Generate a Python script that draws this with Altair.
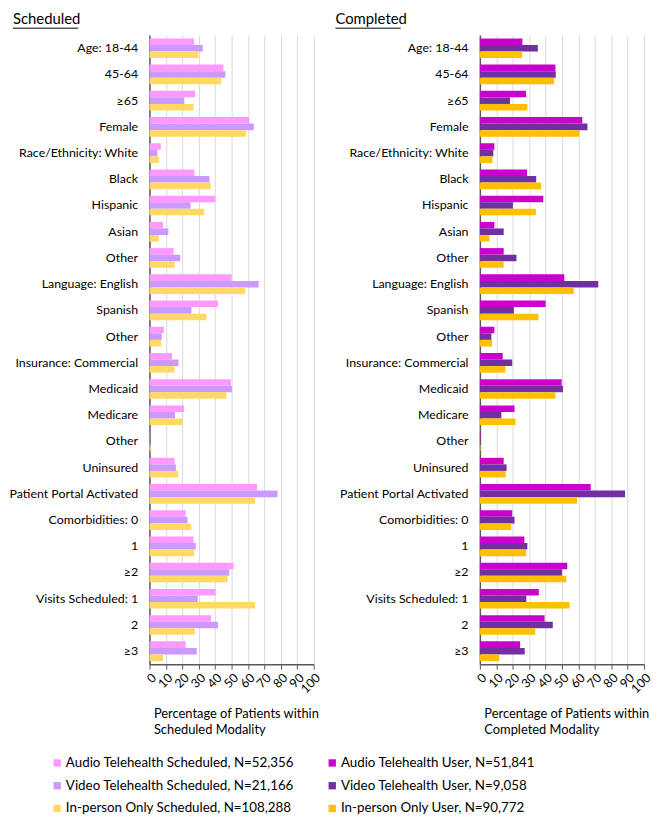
import json
import altair as alt
import pandas as pd

FONT = "Lato"

labels = ["Age: 18-44", "45-64", "≥65", "Female", "Race/Ethnicity: White", "Black",
          "Hispanic", "Asian", "Other", "Language: English", "Spanish", "Other",
          "Insurance: Commercial", "Medicaid", "Medicare", "Other", "Uninsured",
          "Patient Portal Activated", "Comorbidities: 0", "1", "≥2",
          "Visits Scheduled: 1", "2", "≥3"]

sched_series = ["Audio Telehealth Scheduled, N=52,356",
                "Video Telehealth Scheduled, N=21,166",
                "In-person Only Scheduled, N=108,288"]
comp_series = ["Audio Telehealth User, N=51,841",
               "Video Telehealth User, N=9,058",
               "In-person Only User, N=90,772"]

sched_audio = [27.2, 45.0, 27.8, 60.7, 6.9, 27.4, 40.1, 8.3, 14.7, 50.0, 41.7, 8.7,
               13.7, 49.6, 21.0, 0.2, 15.3, 65.5, 22.0, 26.8, 51.2, 40.3, 37.5, 22.0]
sched_video = [32.5, 46.2, 21.2, 63.5, 4.8, 36.5, 25.0, 11.5, 18.8, 66.5, 25.6, 7.5,
               17.7, 50.2, 15.5, 0.3, 16.1, 78.0, 23.2, 28.2, 48.6, 29.4, 41.7, 28.8]
sched_inperson = [29.8, 43.7, 26.8, 58.9, 5.8, 37.3, 33.3, 5.6, 15.3, 58.3, 34.7, 7.1,
                  15.3, 46.8, 20.0, 0.8, 17.5, 64.3, 25.4, 27.2, 47.6, 64.3, 27.6, 8.3]

comp_audio = [25.9, 46.0, 28.1, 62.4, 8.8, 28.7, 38.6, 8.8, 14.5, 51.4, 40.0, 8.8,
              13.9, 49.8, 21.1, 0.4, 14.5, 67.5, 19.7, 27.1, 53.2, 35.9, 39.4, 24.5]
comp_video = [35.3, 46.2, 18.3, 65.5, 8.2, 34.3, 20.1, 14.5, 22.3, 72.1, 20.7, 7.0,
              19.7, 50.6, 13.1, 0.2, 16.3, 88.4, 21.1, 28.9, 50.0, 28.3, 44.4, 27.3]
comp_inperson = [25.7, 45.2, 28.9, 60.6, 7.6, 37.3, 34.1, 5.8, 14.5, 57.2, 35.7, 7.4,
                 15.5, 46.0, 21.7, 0.4, 15.7, 59.2, 19.1, 28.1, 52.6, 54.6, 33.7, 11.8]

sched_colors = ["#FF99FF", "#CC99FF", "#FFD966"]
comp_colors = ["#CC00CC", "#7030A0", "#FFC000"]

x_ticks = list(range(0, 101, 10))
label_expr = json.dumps(labels, ensure_ascii=False) + "[datum.value]"

W, H = 166, 636


def panel(title, series, values, colors, axis_title, title_x, legend_x):
    rows = []
    for s, vals in zip(series, values):
        for i, v in enumerate(vals):
            rows.append({"idx": i, "series": s, "value": v})
    df = pd.DataFrame(rows)

    bars = alt.Chart(df).mark_bar(height={"band": 1}).encode(
        y=alt.Y("idx:O",
                scale=alt.Scale(paddingInner=0.25, paddingOuter=0.125),
                axis=alt.Axis(title=None, labelExpr=label_expr, ticks=False,
                              domainColor="#595959", domainWidth=1.5,
                              labelFontSize=12.5, labelPadding=12, labelColor="#000000",
                              labelLimit=220, minExtent=138, maxExtent=138)),
        yOffset=alt.YOffset("series:N", scale=alt.Scale(domain=series, paddingInner=0, paddingOuter=0)),
        x=alt.X("value:Q",
                scale=alt.Scale(domain=[0, 100], nice=False),
                axis=alt.Axis(values=x_ticks, labelAngle=-45, labelFontSize=12.5,
                              labelOverlap=False,
                              labelColor="#000000", tickColor="#595959", tickSize=5,
                              domainColor="#595959", domainWidth=1.5,
                              gridColor="#d9d9d9", gridWidth=1,
                              title=axis_title, titleAnchor="start", titleAlign="left",
                              titleBaseline="top", titleX=4, titleY=44,
                              titleFontSize=13, titleFontWeight="normal",
                              titleColor="#000000", titleLineHeight=16)),
        color=alt.Color("series:N",
                        scale=alt.Scale(domain=series, range=colors),
                        legend=alt.Legend(title=None, orient="none", legendX=legend_x,
                                          legendY=729, direction="vertical",
                                          symbolType="square", symbolSize=55,
                                          symbolStrokeWidth=0, labelFontSize=13.5,
                                          labelColor="#000000", rowPadding=8,
                                          labelOffset=2, labelLimit=300)),
    )

    tdf = pd.DataFrame({"t": [title]})
    txt = alt.Chart(tdf).mark_text(align="left", baseline="middle", fontSize=15,
                                   color="#000000").encode(
        text="t:N", x=alt.value(title_x), y=alt.value(-16))
    underline = alt.Chart(tdf).mark_rule(color="#000000", strokeWidth=1).encode(
        x=alt.value(title_x), x2=alt.value(title_x + 66), y=alt.value(-7))

    return alt.layer(bars, txt, underline).properties(width=W, height=H)


left = panel("Scheduled", sched_series, [sched_audio, sched_video, sched_inperson],
             sched_colors, ["Percentage of Patients within", "Scheduled Modality"],
             -138, -100)
right = panel("Completed", comp_series, [comp_audio, comp_video, comp_inperson],
              comp_colors, ["Percentage of Patients within", "Completed Modality"],
              -146, -156)

chart = alt.hconcat(left, right, spacing=168, bounds="flush").resolve_scale(
    color="independent", yOffset="independent", y="independent", x="independent"
).configure(font=FONT, padding=0).configure_view(stroke=None)

chart.save("out.html", embed_options={"renderer": "svg", "actions": False})
